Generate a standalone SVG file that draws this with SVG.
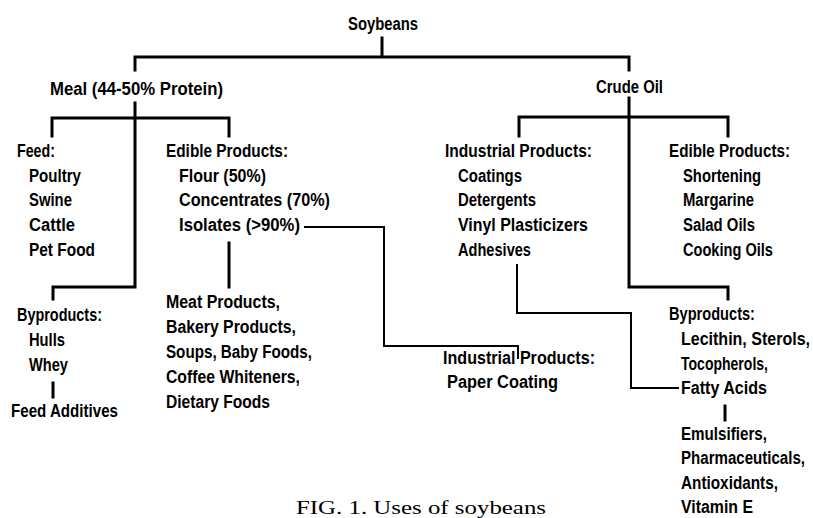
<svg xmlns="http://www.w3.org/2000/svg" width="813" height="518" viewBox="0 0 813 518">
<style>
.t{font-family:"Liberation Sans",Arial,sans-serif;font-weight:bold;font-size:19px;fill:#000}
.cap{font-family:"Liberation Serif","Times New Roman",serif;font-size:19px;fill:#000}
.k{fill:none;stroke:#000;stroke-width:3;stroke-linejoin:miter;stroke-linecap:square}
.k2{fill:none;stroke:#000;stroke-width:2;stroke-linejoin:miter;stroke-linecap:square}
</style>
<rect width="813" height="518" fill="#fff"/>
<g id="connectors">
<path class="k" d="M382 38 V57 M135 70 V57 H629 V70"/>
<path class="k" d="M135 103 V287 H53 V299 M52 136 V118 H229 V136"/>
<path class="k" d="M629 98 V287 H728 V299 M519 136 V117 H728 V136"/>
<path class="k" d="M229 243 V287"/>
<path class="k" d="M53 383 V397"/>
<path class="k" d="M725 406 V420"/>
<path class="k2" d="M305 227 H384 V346 H518 V358"/>
<path class="k2" d="M517 265 V313 H631 V388 H678"/>
</g>
<g transform="scale(0.8,1)">
<g id="soybeans"><text class="t" x="435" y="30" textLength="87.5" lengthAdjust="spacingAndGlyphs">Soybeans</text></g>
<g id="meal"><text class="t" x="62.5" y="95" textLength="216.25" lengthAdjust="spacingAndGlyphs">Meal (44-50% Protein)</text></g>
<g id="crude-oil"><text class="t" x="745" y="93" textLength="83.75" lengthAdjust="spacingAndGlyphs">Crude Oil</text></g>
<g id="feed">
<text class="t" x="21.25" y="157" textLength="47.5" lengthAdjust="spacingAndGlyphs">Feed:</text>
<text class="t" x="36.25" y="182" textLength="65" lengthAdjust="spacingAndGlyphs">Poultry</text>
<text class="t" x="36.25" y="206" textLength="53.75" lengthAdjust="spacingAndGlyphs">Swine</text>
<text class="t" x="36.25" y="231" textLength="57.5" lengthAdjust="spacingAndGlyphs">Cattle</text>
<text class="t" x="36.25" y="256" textLength="82.5" lengthAdjust="spacingAndGlyphs">Pet Food</text>
</g>
<g id="meal-edible">
<text class="t" x="207.5" y="157" textLength="152.5" lengthAdjust="spacingAndGlyphs">Edible Products:</text>
<text class="t" x="223.75" y="182" textLength="108.75" lengthAdjust="spacingAndGlyphs">Flour (50%)</text>
<text class="t" x="223.75" y="206" textLength="188.75" lengthAdjust="spacingAndGlyphs">Concentrates (70%)</text>
<text class="t" x="223.75" y="231" textLength="151.25" lengthAdjust="spacingAndGlyphs">Isolates (&gt;90%)</text>
</g>
<g id="oil-industrial">
<text class="t" x="556.25" y="157" textLength="183.75" lengthAdjust="spacingAndGlyphs">Industrial Products:</text>
<text class="t" x="572.5" y="182" textLength="80" lengthAdjust="spacingAndGlyphs">Coatings</text>
<text class="t" x="572.5" y="206" textLength="97.5" lengthAdjust="spacingAndGlyphs">Detergents</text>
<text class="t" x="572.5" y="231" textLength="162.5" lengthAdjust="spacingAndGlyphs">Vinyl Plasticizers</text>
<text class="t" x="572.5" y="256" textLength="91.25" lengthAdjust="spacingAndGlyphs">Adhesives</text>
</g>
<g id="oil-edible">
<text class="t" x="836.25" y="157" textLength="151.25" lengthAdjust="spacingAndGlyphs">Edible Products:</text>
<text class="t" x="853.75" y="182" textLength="97.5" lengthAdjust="spacingAndGlyphs">Shortening</text>
<text class="t" x="853.75" y="206" textLength="88.75" lengthAdjust="spacingAndGlyphs">Margarine</text>
<text class="t" x="853.75" y="231" textLength="90" lengthAdjust="spacingAndGlyphs">Salad Oils</text>
<text class="t" x="853.75" y="256" textLength="112.5" lengthAdjust="spacingAndGlyphs">Cooking Oils</text>
</g>
<g id="meal-byproducts">
<text class="t" x="21.25" y="321" textLength="106.25" lengthAdjust="spacingAndGlyphs">Byproducts:</text>
<text class="t" x="36.25" y="346" textLength="45" lengthAdjust="spacingAndGlyphs">Hulls</text>
<text class="t" x="36.25" y="371" textLength="48.75" lengthAdjust="spacingAndGlyphs">Whey</text>
</g>
<g id="feed-additives"><text class="t" x="13.75" y="417" textLength="133.75" lengthAdjust="spacingAndGlyphs">Feed Additives</text></g>
<g id="food-uses">
<text class="t" x="207.5" y="308" textLength="142.5" lengthAdjust="spacingAndGlyphs">Meat Products,</text>
<text class="t" x="207.5" y="333" textLength="162.5" lengthAdjust="spacingAndGlyphs">Bakery Products,</text>
<text class="t" x="207.5" y="358" textLength="182.5" lengthAdjust="spacingAndGlyphs">Soups, Baby Foods,</text>
<text class="t" x="207.5" y="383" textLength="167.5" lengthAdjust="spacingAndGlyphs">Coffee Whiteners,</text>
<text class="t" x="207.5" y="408" textLength="130" lengthAdjust="spacingAndGlyphs">Dietary Foods</text>
</g>
<g id="paper">
<text class="t" x="553.75" y="364" textLength="190" lengthAdjust="spacingAndGlyphs">Industrial Products:</text>
<text class="t" x="558.75" y="388" textLength="138.75" lengthAdjust="spacingAndGlyphs">Paper Coating</text>
</g>
<g id="oil-byproducts">
<text class="t" x="836.25" y="320" textLength="107.5" lengthAdjust="spacingAndGlyphs">Byproducts:</text>
<text class="t" x="851.25" y="345" textLength="161.25" lengthAdjust="spacingAndGlyphs">Lecithin, Sterols,</text>
<text class="t" x="851.25" y="370" textLength="108.75" lengthAdjust="spacingAndGlyphs">Tocopherols,</text>
<text class="t" x="851.25" y="394" textLength="107.5" lengthAdjust="spacingAndGlyphs">Fatty Acids</text>
</g>
<g id="byproduct-uses">
<text class="t" x="851.25" y="440" textLength="107.5" lengthAdjust="spacingAndGlyphs">Emulsifiers,</text>
<text class="t" x="851.25" y="464" textLength="155" lengthAdjust="spacingAndGlyphs">Pharmaceuticals,</text>
<text class="t" x="851.25" y="489" textLength="121.25" lengthAdjust="spacingAndGlyphs">Antioxidants,</text>
<text class="t" x="851.25" y="513" textLength="90" lengthAdjust="spacingAndGlyphs">Vitamin E</text>
</g>
</g>
<text class="cap" x="296" y="514" textLength="250" lengthAdjust="spacingAndGlyphs">FIG. 1. Uses of soybeans</text>
</svg>
